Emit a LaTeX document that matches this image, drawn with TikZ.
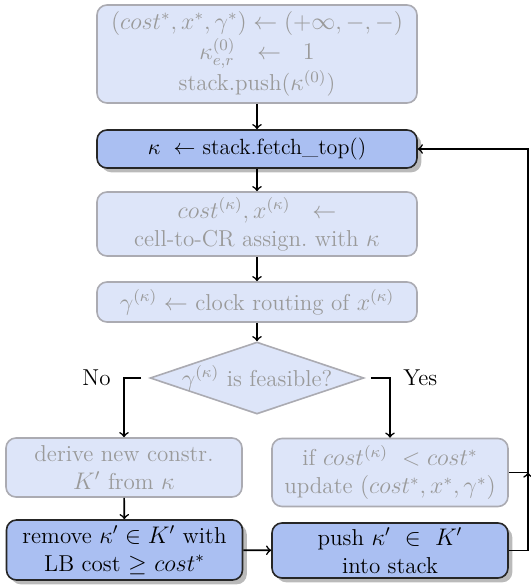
\documentclass[tikz,border=0pt]{standalone}
\usepackage{amsmath,amssymb}
\usepackage{xcolor}
\usetikzlibrary{shapes.geometric,shadows}
\definecolor{boxfill}{HTML}{AABFF2}
\definecolor{fadefill}{HTML}{DDE5F9}
\definecolor{fadetext}{HTML}{9A9A9A}
\definecolor{fadeline}{HTML}{ABABB2}

\begin{document}
\begin{tikzpicture}[x=0.5pt, y=-0.5pt, font=\fontsize{11.5}{14}\selectfont,
act/.style = {draw=black!85, fill=boxfill, rounded corners=5pt, thick, inner sep=0pt, align=center, drop shadow={fill=black!45, opacity=0.6}},
fade/.style = {draw=fadeline, fill=fadefill, rounded corners=5pt, thick, inner sep=0pt, align=center, text=fadetext},
arr/.style = {->, thick, >=to}
]
\useasboundingbox (0,0) rectangle (531,585);
\node[fade, minimum width=160pt, minimum height=49pt] (init) at (257,54)
  {$(cost^{*}, x^{*}, \gamma^{*}) \leftarrow (+\infty, -, -)$\\[1pt] $\kappa_{e,r}^{(0)}\ \ \leftarrow\ \ 1$\\ stack.push($\kappa^{(0)}$)};
\node[act, minimum width=160pt, minimum height=19pt, font=\fontsize{11}{13}\selectfont] (fetch) at (257,149)
  {$\kappa\ \leftarrow$ stack.fetch\_top()};
\node[fade, minimum width=160pt, minimum height=32pt] (cost) at (257,224)
  {$cost^{(\kappa)}, x^{(\kappa)}\ \ \leftarrow$\\ cell-to-CR assign.\ with $\kappa$};
\node[fade, minimum width=160pt, minimum height=20pt] (route) at (257,302)
  {$\gamma^{(\kappa)} \leftarrow$ clock routing of $x^{(\kappa)}$};
\node[fade, shape=diamond, rounded corners=0pt, minimum width=107pt, minimum height=36pt] (feas) at (257,378)
  {\makebox[0pt]{$\gamma^{(\kappa)}$ is feasible?}};
\node[fade, minimum width=118pt, minimum height=29.5pt] (derive) at (124,467.5)
  {derive new constr.\\ $K'$ from $\kappa$};
\node[fade, minimum width=118pt, minimum height=34pt] (upd) at (390,472.5)
  {if $cost^{(\kappa)}\ < cost^{*}$\\ update $(cost^{*}, x^{*}, \gamma^{*})$};
\node[act, minimum width=118pt, minimum height=30pt] (prune) at (124.5,550)
  {remove $\kappa' \in K'$ with\\ LB cost $\geq$ $cost^{*}$};
\node[act, minimum width=118pt, minimum height=27.5pt] (push) at (390,550.5)
  {push $\kappa'\ \in\ K'$\\ into stack};
\coordinate (join) at (528,472.5);

\foreach \i/\j in {init/fetch, fetch/cost, cost/route, route/feas, derive/prune}{\draw[arr] (\i) -- (\j);}
\draw[arr] (prune) -- (push);
\draw[arr, shorten <=4pt] (feas.west) -| node[pos=0.5, left=3pt]{No} (derive.north);
\draw[arr, shorten <=3pt] (feas.east) -| node[pos=0.5, right=3pt]{Yes} (upd.north);
\draw[arr] (push.east) -| (join);
\draw[arr] (upd.east) -- (join) |- (fetch.east);
\end{tikzpicture}
\end{document}
